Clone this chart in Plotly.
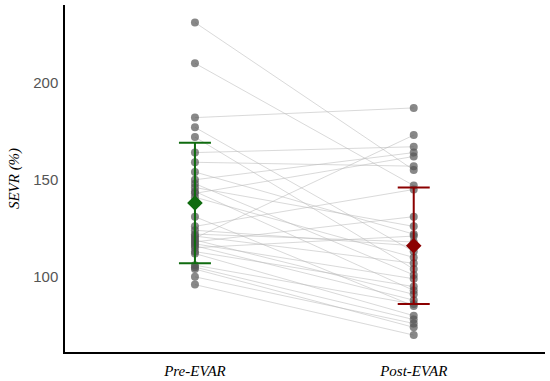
import plotly.graph_objects as go

groups = ["Pre-EVAR", "Post-EVAR"]
pre = [231, 210, 182, 177, 172, 164, 159, 154, 150, 148, 146, 144, 143, 141, 131, 126,
       124, 122, 121, 120, 119, 118, 117, 116, 115, 113, 112, 106, 105, 104, 100, 96]
post = [155, 147, 187, 113, 104, 167, 157, 122, 164, 101, 126, 93, 162, 110, 85, 145,
        116, 118, 107, 173, 91, 131, 99, 88, 121, 95, 80, 86, 78, 74, 76, 70]
means = [138, 116]
sds = [31, 30]
colors = ["#0f6b0f", "#8b0000"]
yticks = [100, 150, 200]

fig = go.Figure()
for a, b in zip(pre, post):
    fig.add_trace(go.Scatter(x=[0, 1], y=[a, b], mode="lines",
                             line=dict(color="rgba(185,185,185,0.55)", width=1),
                             hoverinfo="skip", showlegend=False))
fig.add_trace(go.Scatter(x=[0] * len(pre) + [1] * len(post), y=pre + post, mode="markers",
                         marker=dict(color="rgba(85,85,85,0.7)", size=8),
                         showlegend=False))
for i in range(2):
    fig.add_trace(go.Scatter(x=[i], y=[means[i]], mode="markers",
                             marker=dict(symbol="diamond", size=12, color=colors[i]),
                             error_y=dict(type="data", array=[sds[i]], color=colors[i],
                                          thickness=2, width=16),
                             showlegend=False))

fig.update_layout(
    width=550, height=381,
    margin=dict(l=65, r=5, t=5, b=29),
    plot_bgcolor="white", paper_bgcolor="white",
    xaxis=dict(range=[-0.594, 1.6], tickvals=[0, 1], automargin=False,
               ticktext=["<i>" + g + "</i>" for g in groups],
               tickfont=dict(family="Liberation Serif", size=15, color="black"),
               showline=True, linecolor="black", linewidth=1.5,
               showgrid=False, zeroline=False, ticks="outside", ticklen=4,
               tickcolor="rgba(0,0,0,0)"),
    yaxis=dict(range=[61.3, 240], tickvals=yticks, automargin=False,
               tickfont=dict(family="Liberation Sans", size=15, color="#555555"),
               title=dict(text="<i>SEVR (%)</i>",
                          font=dict(family="Liberation Serif", size=15, color="black"),
                          standoff=10),
               showline=True, linecolor="black", linewidth=1.5,
               showgrid=False, zeroline=False, ticks="outside", ticklen=2,
               tickcolor="rgba(0,0,0,0)"),
)
fig.write_html("out.html", config={"displayModeBar": False},
               post_script="document.body.style.margin='0px';document.body.style.overflow='hidden';")
